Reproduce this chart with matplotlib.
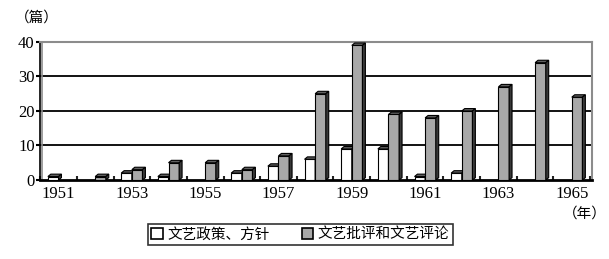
import matplotlib.pyplot as plt
from matplotlib.patches import Polygon, Patch

plt.rcParams['font.family'] = ['Liberation Serif', 'Noto Sans CJK SC']

years = list(range(1951, 1966))
policy = [1, 0, 2, 1, 0, 2, 4, 6, 9, 9, 1, 2, 0, 0, 0]
criticism = [0, 1, 3, 5, 5, 3, 7, 25, 39, 19, 18, 20, 27, 34, 24]
xlabels = [str(y) if (y - 1951) % 2 == 0 else '' for y in years]

fig = plt.figure(figsize=(6.09, 2.59), dpi=100)
ax = fig.add_axes([0.066, 0.305, 0.906, 0.533])

w = 0.29
dx, dy = 0.08, 0.7


def bar3d(x0, h, face):
    if h <= 0:
        return
    x1 = x0 + w
    ax.add_patch(Polygon([(x0, 0), (x1, 0), (x1, h), (x0, h)], closed=True,
                         facecolor=face, edgecolor='black', lw=0.8, zorder=3))
    ax.add_patch(Polygon([(x0, h), (x1, h), (x1 + dx, h + dy), (x0 + dx, h + dy)],
                         closed=True, facecolor='#606060', edgecolor='black', lw=0.8, zorder=3))
    ax.add_patch(Polygon([(x1, 0), (x1 + dx, dy), (x1 + dx, h + dy), (x1, h)],
                         closed=True, facecolor='#383838', edgecolor='black', lw=0.8, zorder=3))


for i in range(len(years)):
    bar3d(i - w, policy[i], 'white')
    bar3d(i, criticism[i], '#a8a8a8')

ax.set_xlim(-0.5, 14.55)
ax.set_ylim(0, 40)
ax.set_yticks([0, 10, 20, 30, 40])
for g in [10, 20, 30]:
    ax.axhline(g, color='black', lw=1.3, zorder=1)

ax.set_xticks(range(len(years)))
ax.set_xticklabels(xlabels)
ax.set_xticks([i + 0.5 for i in range(-1, len(years))], minor=True)
ax.tick_params(axis='x', which='major', length=0, labelsize=12, pad=4)
ax.tick_params(axis='x', which='minor', length=3, width=1.5, direction='in', color='#222222')
ax.tick_params(axis='y', length=3, width=1.5, direction='out', labelsize=12, pad=1)

for s in ['top', 'right']:
    ax.spines[s].set_color('#8c8c8c')
    ax.spines[s].set_linewidth(1.5)
ax.spines['left'].set_linewidth(1.2)
ax.spines['bottom'].set_linewidth(2)
ax.axvline(-0.44, color='#8c8c8c', lw=1.2, zorder=1)

fig.text(0.025, 0.915, '（篇）', fontsize=10.5, family=['Noto Sans CJK SC'])
fig.text(0.925, 0.16, '（年）', fontsize=10.5, family=['Noto Sans CJK SC'])

handles = [Patch(facecolor='white', edgecolor='black', lw=1.2),
           Patch(facecolor='#a8a8a8', edgecolor='black', lw=1.2)]
leg = fig.legend(handles, ['文艺政策、方针', '文艺批评和文艺评论'], loc='center',
                 bbox_to_anchor=(0.493, 0.095), ncol=2, fancybox=False, frameon=True,
                 edgecolor='black', prop={'family': 'Noto Sans CJK SC', 'size': 10.5},
                 handlelength=0.8, handleheight=0.8, handletextpad=0.3, columnspacing=2.2,
                 borderpad=0.25)
leg.get_frame().set_linewidth(1.2)

fig.savefig('out.png', dpi=100)
